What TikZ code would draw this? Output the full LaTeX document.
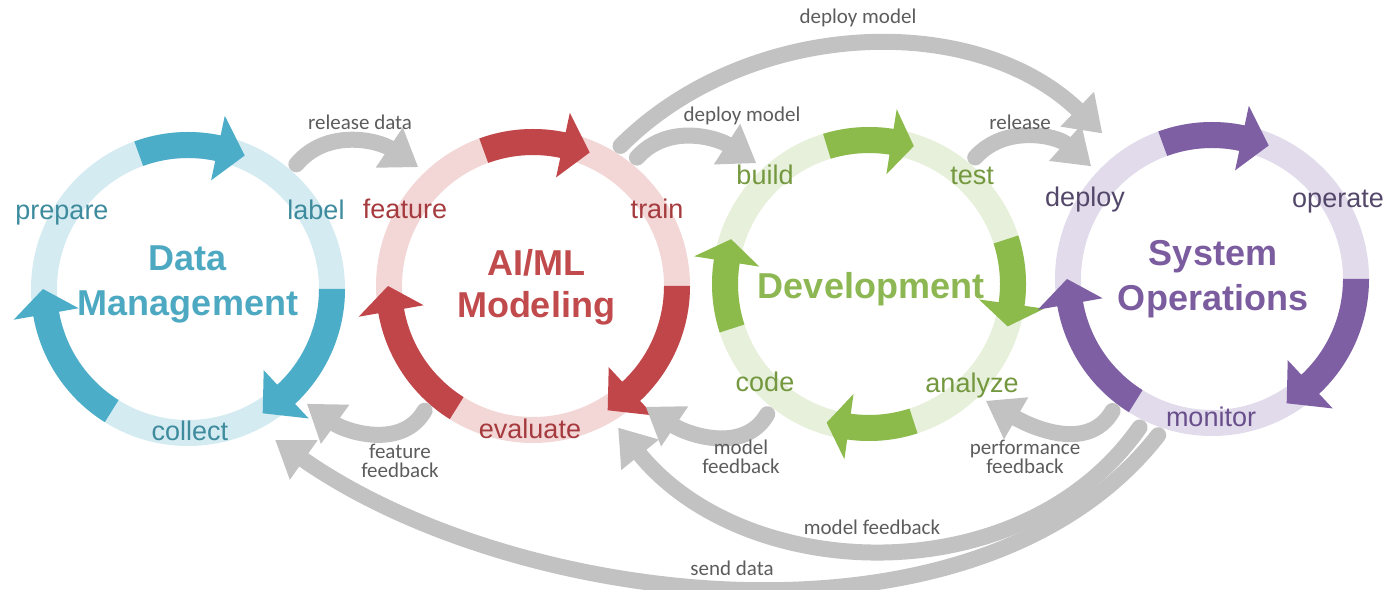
\documentclass[tikz,border=0pt]{standalone}
\usepackage{fontspec}
\setmainfont{Liberation Sans}
\newfontfamily\notefont{Carlito}
\usetikzlibrary{arrows.meta}

\definecolor{dmdark}{HTML}{4BADC7}
\definecolor{dmlight}{HTML}{D5EBF2}
\definecolor{dmtext}{HTML}{3E8B9D}
\definecolor{dmhead}{HTML}{4DA9C2}
\definecolor{aidark}{HTML}{C14649}
\definecolor{ailight}{HTML}{F3D6D6}
\definecolor{aitext}{HTML}{A53B3E}
\definecolor{aihead}{HTML}{C04A4C}
\definecolor{devdark}{HTML}{8CBA4B}
\definecolor{devlight}{HTML}{E7F0DA}
\definecolor{devtext}{HTML}{74983F}
\definecolor{devhead}{HTML}{8DB752}
\definecolor{sodark}{HTML}{7E5FA4}
\definecolor{solight}{HTML}{E1DBEB}
\definecolor{sotext}{HTML}{54486A}
\definecolor{somonitor}{HTML}{684F8C}
\definecolor{sohead}{HTML}{7B5C9F}
\definecolor{flowgray}{HTML}{C2C2C2}
\definecolor{notegray}{HTML}{5C5C5C}

% thick arc with a wide head: colour, start angle, head base angle, tip angle
\newcommand{\cyclearrow}[4]{%
  \fill[#1] (#2:131pt) -- (#2:157pt) arc[start angle=#2, end angle=#3, radius=157pt]
    -- (#3:177pt) -- (#4:145pt) -- (#3:111pt) -- (#3:131pt)
    arc[start angle=#3, end angle=#2, radius=131pt] -- cycle;}

\tikzset{
  ring/.style={circle, minimum size=330pt, inner sep=0pt},
  stage/.style={font=\fontsize{27}{27}\selectfont, text height=19pt, text depth=5pt, inner sep=0pt},
  heading/.style={font=\bfseries\fontsize{36}{45}\selectfont, align=center, inner sep=0pt},
  flow/.style={draw=flowgray, line width=16pt, line cap=round, -{Triangle[width=46pt,length=35pt]}},
  note/.style={font=\notefont\fontsize{21}{19}\selectfont, text=notegray, align=center, inner sep=0pt},
}

\begin{document}
\begin{tikzpicture}[x=1pt,y=1pt]
\useasboundingbox (0,0) rectangle (1391,589);

\node[ring] (dm) at (188,300) {};
\node[ring] (ai) at (533,303) {};
\node[ring] (dev) at (869,305) {};
\node[ring] (so) at (1212,310) {};

\begin{scope}[shift={(dm.center)}]
  \draw[dmlight, line width=26pt] (0,0) circle[radius=144pt];
  \cyclearrow{dmdark}{110}{78}{67}
  \cyclearrow{dmdark}{0}{-47}{-59}
  \cyclearrow{dmdark}{238}{190}{180}
\end{scope}

\begin{scope}[shift={(ai.center)}]
  \draw[ailight, line width=26pt] (0,0) circle[radius=144pt];
  \cyclearrow{aidark}{110}{78}{67}
  \cyclearrow{aidark}{0}{-47}{-59}
  \cyclearrow{aidark}{238}{190}{180}
\end{scope}

\begin{scope}[shift={(dev.center)}]
  \draw[devlight, line width=26pt] (0,0) circle[radius=144pt];
  \cyclearrow{devdark}{107}{81}{72}
  \cyclearrow{devdark}{18}{-8}{-17}
  \cyclearrow{devdark}{-72}{-98}{-107}
  \cyclearrow{devdark}{198}{171}{162}
\end{scope}

\begin{scope}[shift={(so.center)}]
  \draw[solight, line width=26pt] (0,0) circle[radius=144pt];
  \cyclearrow{sodark}{110}{78}{67}
  \cyclearrow{sodark}{0}{-47}{-59}
  \cyclearrow{sodark}{238}{190}{180}
\end{scope}

\node[stage, text=dmtext] (prepare) at (62,376) {prepare};
\node[stage, text=dmtext] (label) at (316,376) {label};
\node[stage, text=dmtext] (collect) at (190,155) {collect};
\node[stage, text=aitext] (feature) at (405,377) {feature};
\node[stage, text=aitext] (train) at (657,377) {train};
\node[stage, text=aitext] (evaluate) at (530,157) {evaluate};
\node[stage, text=devtext] (build) at (765,411) {build};
\node[stage, text=devtext] (test) at (972,411) {test};
\node[stage, text=devtext] (code) at (765,204) {code};
\node[stage, text=devtext] (analyze) at (972,203) {analyze};
\node[stage, text=sotext] (deploy) at (1085,389) {deploy};
\node[stage, text=sotext] (operate) at (1338,388) {operate};
\node[stage, text=somonitor] (monitor) at (1211,169) {monitor};

\node[heading, text=dmhead] (dmtitle) at (188,305) {Data\\Management};
\node[heading, text=aihead] (aititle) at (536,302) {AI/ML\\[-3pt]Modeling};
\node[heading, text=devhead] (devtitle) at (871,300) {Development};
\node[heading, text=sohead] (sotitle) at (1213,310) {System\\Operations};

\draw[flow] (dm.49) to[out=50,in=146] (ai.134);
\draw[flow] (ai.51) to[out=48,in=147] (dev.133);
\draw[flow] (ai.58) to[out=45,in=136,looseness=0.95] ([shift={(127:17pt)}]so.127);
\draw[flow] (dev.50) to[out=48,in=138] (so.137);
\draw[flow] (ai.229) to[out=-120,in=-36] (dm.-44);
\draw[flow] (dev.232) to[out=-120,in=-34] (ai.-47);
\draw[flow] (so.233) to[out=-120,in=-30] (dev.-45);
\draw[flow] (so.244) to[out=-125,in=-51] (ai.-59);
\draw[flow] (so.251) to[out=-128,in=-35,looseness=0.85] ([shift={(-60:9pt)}]dm.-60);

\node[note] (reldata) at (360,467) {release data};
\node[note] (depsmall) at (742,473) {deploy model};
\node[note] (depbig) at (858,571) {deploy model};
\node[note] (rel) at (1020,467) {release};
\node[note] (featfb) at (400,128) {feature\\feedback};
\node[note] (modfb) at (741,132) {model\\feedback};
\node[note] (perffb) at (1025,132) {performance\\feedback};
\node[note] (modfbbig) at (872,62) {model feedback};
\node[note] (send) at (732,21) {send data};
\end{tikzpicture}
\end{document}
